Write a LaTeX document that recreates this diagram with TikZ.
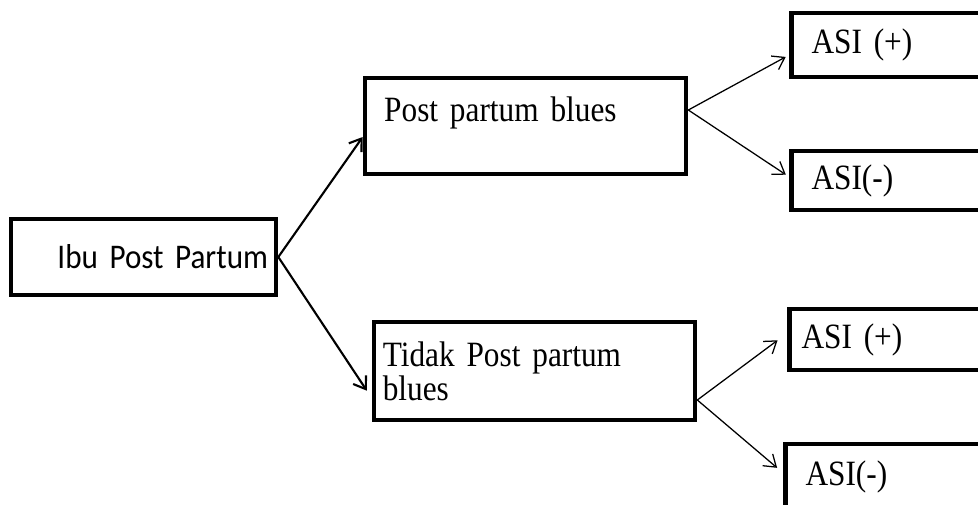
\documentclass[tikz,border=0pt]{standalone}
\usepackage{fontspec}
\setmainfont{Liberation Serif}[FakeStretch=0.88, WordSpace=0.85]
\newfontfamily\calibri{Carlito}[FakeStretch=0.9, WordSpace=0.85]
\usetikzlibrary{arrows.meta}

\tikzset{
  box/.style={draw, line width=3.3pt, align=left, inner ysep=0pt,
    font=\fontsize{25.3}{22.6}\selectfont},
  asibox/.style={box, anchor=west, text width=5.4cm, minimum width=6cm},
  link/.style={-{Straight Barb[length=8pt, width=11pt]}, line width=1.5pt},
  branch/.style={-{Straight Barb[length=8pt, width=11pt]}, line width=0.9pt}
}

\begin{document}
\begin{tikzpicture}

  \useasboundingbox (0, 0) rectangle (24.45, -12.6);
  \clip (0, 0) rectangle (24.45, -12.6);

  % mother
  \node[box, align=right, text width=6.225cm, inner xsep=0.2cm, minimum height=1.9cm,
    font=\calibri\fontsize{24.6}{26}\selectfont] (ibu) at (3.5875, -6.425) {Ibu Post Partum};

  % blues / no blues
  \node[box, text width=7.065cm, inner xsep=0.48cm, minimum height=2.4cm,
    text height=0.62cm, text depth=0.83cm] (ppb) at (13.1375, -3.15) {Post partum blues};
  \node[box, text width=7.585cm, inner xsep=0.22cm, minimum height=2.45cm] (tidak) at (13.3625, -9.275) {Tidak Post partum\\blues};

  % breast milk
  \node[asibox, inner xsep=0.5cm, minimum height=1.6cm] (asia) at (19.73, -1.125) {ASI (+)};
  \node[asibox, inner xsep=0.5cm, minimum height=1.475cm] (asib) at (19.73, -4.5125) {ASI(-)};
  \node[asibox, inner xsep=0.08cm, minimum height=1.525cm] (asic) at (19.68, -8.4875) {ASI (+)};
  \node[asibox, inner xsep=0.5cm, minimum height=1.65cm] (asid) at (19.58, -11.925) {ASI(-)};

  % arrows
  \draw[link] (ibu.east) -- ([yshift=-0.275cm]ppb.west);
  \draw[link, shorten >=0.22cm] (ibu.east) -- ([yshift=-0.675cm]tidak.west);

  \draw[branch, shorten >=0.1cm] ([yshift=0.4cm]ppb.east) -- ([yshift=-0.25cm]asia.west);
  \draw[branch, shorten >=0.1cm] ([yshift=0.4cm]ppb.east) -- ([yshift=0.09cm]asib.west);
  \draw[branch, shorten >=0.3cm] ([yshift=-0.725cm]tidak.east) -- ([yshift=0.16cm]asic.west);
  \draw[branch, shorten >=0.2cm] ([yshift=-0.725cm]tidak.east) -- ([yshift=0.1cm]asid.west);

\end{tikzpicture}
\end{document}
